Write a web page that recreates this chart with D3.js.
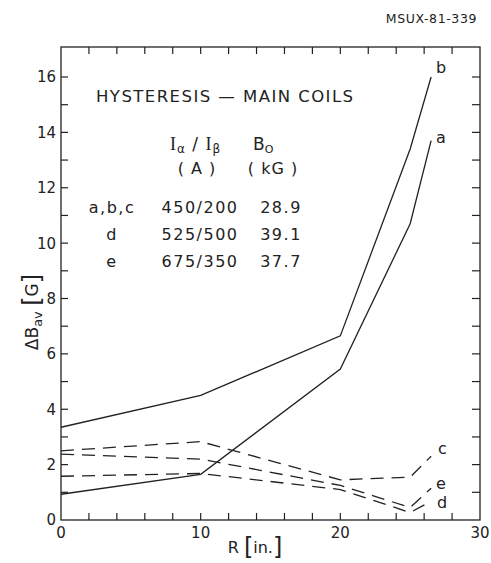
<!DOCTYPE html>
<html>
<head>
<meta charset="utf-8">
<script src="https://cdn.jsdelivr.net/npm/d3@7"></script>
<style>
  body { margin: 0; background: #fff; }
  text { font-family: "DejaVu Sans", sans-serif; fill: #222; }
</style>
</head>
<body>
<div id="chart"></div>
<script>
// radius positions (in.)
const radius = [0, 10, 20, 25, 26.5];
// hysteresis curves, ΔB_av in gauss
const curveA = [0.93, 1.65, 5.45, 10.7, 13.7];
const curveB = [3.35, 4.5, 6.65, 13.4, 16.0];
const curveC = [2.5, 2.83, 1.45, 1.55, 2.3];
const curveD = [1.58, 1.68, 1.1, 0.27, 0.68];
const curveE = [2.38, 2.2, 1.25, 0.45, 1.15];

const xTicks = [0, 10, 20, 30];
const yTicks = [0, 2, 4, 6, 8, 10, 12, 14, 16];

const tableRows = [
    ["a,b,c", "450/200", "28.9"],
    ["d", "525/500", "39.1"],
    ["e", "675/350", "37.7"]
];

const width = 491, height = 563;
const frame = { left: 61, right: 480, top: 47, bottom: 520 };

const x = d3.scaleLinear().domain([0, 30]).range([frame.left, frame.right]);
const y = d3.scaleLinear().domain([0, 16]).range([frame.bottom, 77]);

const svg = d3.select("#chart").append("svg")
    .attr("width", width)
    .attr("height", height);

const ink = "#222";

// frame
svg.append("rect")
    .attr("x", frame.left).attr("y", frame.top)
    .attr("width", frame.right - frame.left).attr("height", frame.bottom - frame.top)
    .attr("fill", "none").attr("stroke", ink).attr("stroke-width", 1.3);

// inward ticks
const tl = 7;
const xMinor = d3.range(2, 30, 2);
const yMinor = d3.range(1, 17, 1);
const ticks = svg.append("g").attr("stroke", ink).attr("stroke-width", 1.2);
xMinor.forEach(v => {
    ticks.append("line").attr("x1", x(v)).attr("x2", x(v)).attr("y1", frame.bottom).attr("y2", frame.bottom - tl);
    ticks.append("line").attr("x1", x(v)).attr("x2", x(v)).attr("y1", frame.top).attr("y2", frame.top + tl);
});
yMinor.forEach(v => {
    ticks.append("line").attr("x1", frame.left).attr("x2", frame.left + tl).attr("y1", y(v)).attr("y2", y(v));
    ticks.append("line").attr("x1", frame.right).attr("x2", frame.right - tl - 1).attr("y1", y(v)).attr("y2", y(v));
});

// tick labels
svg.append("g").selectAll("text")
    .data(yTicks).enter().append("text")
    .attr("x", frame.left - 5).attr("y", d => y(d))
    .attr("dy", "0.36em")
    .attr("text-anchor", "end")
    .style("font-size", "15px")
    .text(d => d);

svg.append("g").selectAll("text")
    .data(xTicks).enter().append("text")
    .attr("x", d => x(d)).attr("y", 538)
    .attr("text-anchor", "middle")
    .style("font-size", "15px")
    .text(d => d);

// axis titles
const xt = svg.append("text").attr("x", 255).attr("y", 553)
    .attr("text-anchor", "middle").style("font-size", "16px");
xt.append("tspan").text("R ");
xt.append("tspan").style("font-size", "24px").attr("dy", 2).text("[");
xt.append("tspan").attr("dy", -2).text("in.");
xt.append("tspan").style("font-size", "24px").attr("dy", 2).text("]");

const yt = svg.append("text")
    .attr("transform", "translate(38,312) rotate(-90)")
    .attr("text-anchor", "middle").style("font-size", "17px");
yt.append("tspan").text("ΔB");
yt.append("tspan").style("font-size", "13px").attr("dy", 4).text("av");
yt.append("tspan").attr("dy", -4).text("  ");
yt.append("tspan").style("font-size", "24px").attr("dy", 2).text("[");
yt.append("tspan").attr("dy", -2).text("G");
yt.append("tspan").style("font-size", "24px").attr("dy", 2).text("]");

// report number
svg.append("text").attr("x", 477).attr("y", 23)
    .attr("text-anchor", "end").style("font-size", "12.5px")
    .style("letter-spacing", "0.6px")
    .text("MSUX-81-339");

// heading
svg.append("text").attr("x", 96).attr("y", 102)
    .style("font-size", "16.5px").attr("textLength", 257)
    .text("HYSTERESIS — MAIN COILS");

// table
const hdr = svg.append("text").attr("x", 170).attr("y", 150)
    .style("font-size", "17px").style("letter-spacing", "1px");
hdr.append("tspan").style("font-family", "Liberation Serif").style("font-size", "18px").text("I");
hdr.append("tspan").style("font-size", "12px").attr("dy", 3).text("α");
hdr.append("tspan").attr("dy", -3).text(" / ");
hdr.append("tspan").style("font-family", "Liberation Serif").style("font-size", "18px").text("I");
hdr.append("tspan").style("font-size", "12px").attr("dy", 3).text("β");

const b0 = svg.append("text").attr("x", 253).attr("y", 150).style("font-size", "17px");
b0.append("tspan").text("B");
b0.append("tspan").style("font-size", "11px").attr("dy", 3).text("O");

svg.append("text").attr("x", 197).attr("y", 174).attr("text-anchor", "middle")
    .style("font-size", "16px").style("letter-spacing", "1px").text("( A )");
svg.append("text").attr("x", 273).attr("y", 174).attr("text-anchor", "middle")
    .style("font-size", "16px").style("letter-spacing", "1px").text("( kG )");

const rows = svg.append("g").selectAll("g")
    .data(tableRows).enter().append("g")
    .attr("transform", (d, i) => `translate(0,${213 + i * 27})`)
    .style("font-size", "16px")
    .style("letter-spacing", "1.5px");
rows.append("text").attr("x", 112).attr("text-anchor", "middle").text(d => d[0]);
rows.append("text").attr("x", 200).attr("text-anchor", "middle").text(d => d[1]);
rows.append("text").attr("x", 281).attr("text-anchor", "middle").text(d => d[2]);

// curves
const line = d3.line()
    .x((d, i) => x(radius[i]))
    .y(d => y(d));

const series = [
    { name: "a", values: curveA, dash: null },
    { name: "b", values: curveB, dash: null },
    { name: "c", values: curveC, dash: "13,8" },
    { name: "d", values: curveD, dash: "13,8" },
    { name: "e", values: curveE, dash: "13,8" }
];

svg.append("g").selectAll("path")
    .data(series).enter().append("path")
    .attr("d", d => line(d.values))
    .attr("fill", "none")
    .attr("stroke", ink)
    .attr("stroke-width", 1.3)
    .attr("stroke-dasharray", d => d.dash);

// curve labels near the right ends
const labelOffset = { a: [-6, -3], b: [-6, -10], c: [-4, -8], d: [-5, 1], e: [-6, -5] };
svg.append("g").selectAll("text")
    .data(series).enter().append("text")
    .attr("x", d => x(radius[radius.length - 1]) + 11 + labelOffset[d.name][0])
    .attr("y", d => y(d.values[d.values.length - 1]) + labelOffset[d.name][1])
    .attr("dy", "0.35em")
    .style("font-size", "16px")
    .text(d => d.name);
</script>
</body>
</html>
